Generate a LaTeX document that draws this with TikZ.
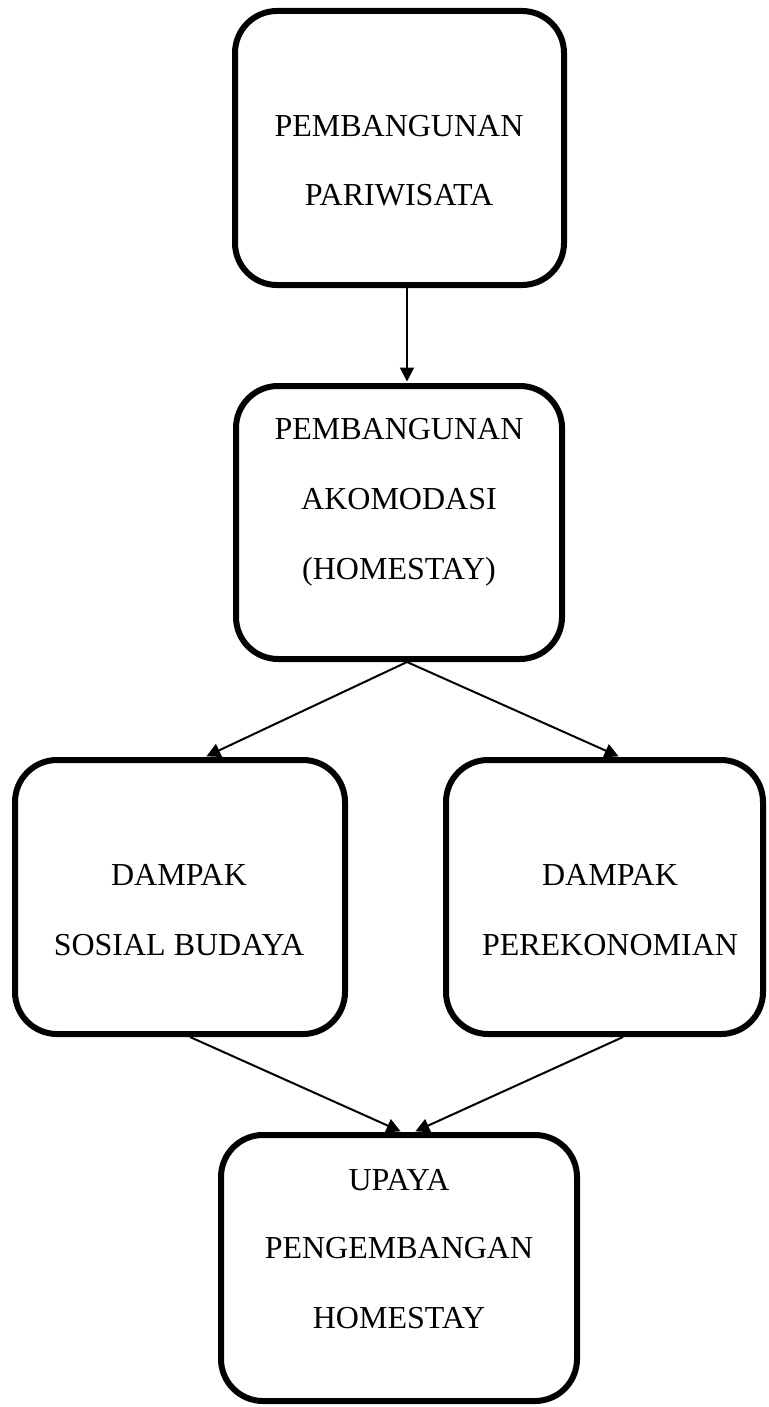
\documentclass[tikz,border=0pt]{standalone}
\usepackage{fontspec}
\setmainfont{Liberation Serif}
\usetikzlibrary{arrows.meta,calc}
\begin{document}
\begin{tikzpicture}[x=1pt,y=-1pt,
  box/.style={draw=black,line width=6pt,rounded corners=42pt,inner sep=0pt,fill=white},
  txt/.style={anchor=base,inner sep=0pt,font=\fontsize{32}{38}\selectfont},
  conn/.style={line width=2pt,-{Triangle[length=14pt,width=14pt]},shorten >=1.5pt}]
\useasboundingbox (0,0) rectangle (768,1407);
\node[box,minimum width=329pt,minimum height=274pt] (b1) at (399.5,148) {};
\node[box,minimum width=326pt,minimum height=273pt] (b2) at (399,522.5) {};
\node[box,minimum width=330pt,minimum height=274pt] (b3) at (180,897) {};
\node[box,minimum width=317pt,minimum height=274pt] (b4) at (604.5,897) {};
\node[box,minimum width=356pt,minimum height=266pt] (b5) at (399,1268) {};
% texts
\node[txt] (t1a) at (399,137) {PEMBANGUNAN};
\node[txt] (t1b) at (399,205) {PARIWISATA};
\node[txt] (t2a) at (399,439) {PEMBANGUNAN};
\node[txt] (t2b) at (399,509) {AKOMODASI};
\node[txt] (t2c) at (399,579) {(HOMESTAY)};
\node[txt] (t3a) at (179,885) {DAMPAK};
\node[txt] (t3b) at (179,955) {SOSIAL BUDAYA};
\node[txt] (t4a) at (610,885) {DAMPAK};
\node[txt] (t4b) at (610,955) {PEREKONOMIAN};
\node[txt] (t5a) at (399,1190) {UPAYA};
\node[txt] (t5b) at (399,1258) {PENGEMBANGAN};
\node[txt] (t5c) at (399,1328) {HOMESTAY};
% connectors
\draw[conn] ($(b1.south)+(7.5,0)$) -- ($(b2.north)+(8,0)$);
\draw[conn] ($(b2.south)+(8,0)$) -- ($(b3.north)+(25,0)$);
\draw[conn] ($(b2.south)+(8,0)$) -- ($(b4.north)+(15.5,0)$);
\draw[conn] ($(b3.south)+(10,0)$) -- ($(b5.north)+(3,0)$);
\draw[conn] ($(b4.south)+(18.5,0)$) -- ($(b5.north)+(15,0)$);
\end{tikzpicture}
\end{document}
